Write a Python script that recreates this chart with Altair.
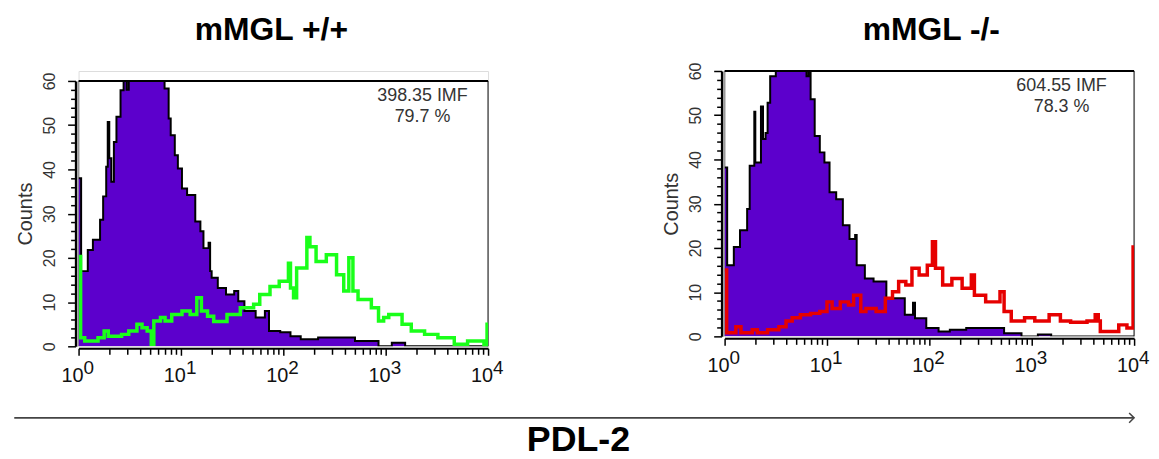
import altair as alt
import pandas as pd

FONT = "Liberation Sans"
PURPLE = "#5c00cc"
GREEN = "#1aff1a"
RED = "#e60000"

# ---- histogram data (bin start in log10 channel units, counts) ----
left_iso_pos = [0.0, 0.025, 0.09, 0.14, 0.21, 0.24, 0.27, 0.285, 0.30, 0.32, 0.345, 0.37, 0.41, 0.44, 0.47, 0.49,
                0.84, 0.88, 0.90, 0.94, 0.97, 1.01, 1.06, 1.14, 1.19, 1.22, 1.27, 1.285, 1.30, 1.36, 1.44, 1.52,
                1.56, 1.62, 1.73, 1.82, 1.86, 1.97, 2.07, 2.17, 2.34, 2.70, 2.93, 3.06, 3.19, 4.0]
left_iso_cnt = [38, 17, 21.8, 24.1, 28.6, 33.9, 40.6, 50.7, 42.5, 37.2, 46.2, 51.9, 57.9, 60, 58, 60,
                58.3, 51.5, 47.7, 43.2, 40.2, 35.7, 34.2, 28.2, 26, 22.2, 23.4, 17, 15.5, 13.2, 11.7, 12.5,
                10.2, 8, 6.5, 8, 3.45, 3.2, 2.3, 1.6, 2.0, 1.2, 0, 0.8, 0, 0]

left_pdl_pos = [0.0, 0.02, 0.06, 0.19, 0.25, 0.29, 0.42, 0.49, 0.57, 0.62, 0.67, 0.71, 0.735, 0.80, 0.845,
                0.91, 1.01, 1.09, 1.155, 1.20, 1.26, 1.32, 1.45, 1.58, 1.71, 1.77, 1.87, 1.96, 2.05, 2.07,
                2.10, 2.13, 2.23, 2.26, 2.32, 2.42, 2.52, 2.59, 2.64, 2.68, 2.73, 2.86, 2.93, 2.98, 3.03,
                3.16, 3.25, 3.38, 3.51, 3.67, 3.80, 3.96, 3.99, 4.0]
left_pdl_cnt = [20.3, 1.95, 1.2, 1.95, 3.45, 2.3, 2.7, 3.45, 5.0, 4.2, 3.45, 0.45, 5.7, 6.5, 5.7,
                7.2, 8.0, 7.2, 11, 8.0, 6.8, 5.6, 7.2, 8.7, 9.5, 11.7, 13.5, 14.7, 18.8, 13.2,
                11, 17.7, 24.6, 22.5, 19.2, 20.7, 16.2, 12.5, 20, 12.5, 10.6, 8.7, 5.7, 6.5, 7.2,
                5.0, 3.45, 2.7, 1.95, 0.45, 1.2, 0.2, 5, 5]

right_iso_pos = [0.0, 0.025, 0.09, 0.15, 0.22, 0.245, 0.29, 0.30, 0.355, 0.375, 0.40, 0.42, 0.445, 0.50, 0.80,
                 0.82, 0.84, 0.88, 0.93, 0.975, 1.025, 1.09, 1.155, 1.22, 1.275, 1.29, 1.37, 1.455, 1.58, 1.76,
                 1.84, 1.86, 1.97, 2.09, 2.20, 2.36, 2.73, 2.90, 3.06, 3.19, 4.0]
right_iso_cnt = [38.2, 16.1, 20.2, 24, 28.8, 38.6, 50.8, 39.3, 52, 44.6, 46, 52.8, 58.8, 60, 58.8,
                 60, 53.6, 45.3, 41.6, 39.3, 32.6, 31, 25.1, 22, 22.9, 16.1, 13.1, 12.4, 8.6, 4.9,
                 7.6, 4.1, 1.9, 1.1, 1.5, 1.9, 0.7, 0, 0.4, 0, 0]

right_pdl_pos = [0.0, 0.02, 0.11, 0.16, 0.27, 0.32, 0.42, 0.53, 0.60, 0.66, 0.74, 0.84, 0.93, 1.0, 1.05,
                 1.13, 1.21, 1.26, 1.33, 1.38, 1.48, 1.57, 1.64, 1.70, 1.77, 1.83, 1.90, 1.98, 2.03, 2.06,
                 2.13, 2.22, 2.32, 2.41, 2.44, 2.55, 2.69, 2.73, 2.80, 2.93, 3.03, 3.17, 3.28, 3.38, 3.54,
                 3.62, 3.65, 3.67, 3.85, 3.93, 3.99, 4.0]
right_pdl_cnt = [15, 0.8, 2.2, 0.8, 1.5, 0.8, 1.5, 2.2, 3.5, 4.2, 4.9, 5.2, 5.6, 7.8, 6.3,
                 7.8, 7.1, 9.3, 5.6, 6.3, 5.6, 8.6, 10.1, 12.4, 11.6, 15.4, 13.9, 16.1, 21.4, 15.4,
                 11.6, 13.1, 10.9, 13.9, 9.3, 7.8, 10.1, 5.6, 3.5, 4.2, 3.5, 4.9, 3.5, 3.2, 3.5,
                 4.9, 3.5, 1.1, 2.6, 1.9, 20.2, 20.2]

titles = ["mMGL +/+", "mMGL -/-"]
imf_text = ["398.35 IMF", "604.55 IMF"]
pct_text = ["79.7 %", "78.3 %"]
x_label = "PDL-2"
y_label = "Counts"

decades = [0, 1, 2, 3, 4]
minor_mult = [1, 2, 3, 4, 5, 6, 7, 8, 9]
y_tick_values = list(range(0, 61, 2))
x_tick_values = [m * 10 ** d for d in decades[:-1] for m in minor_mult] + [10 ** decades[-1]]

W = 412


def hist_df(pos, cnt):
    return pd.DataFrame({"x": [10 ** p for p in pos], "y": cnt})


def panel(iso_pos, iso_cnt, pdl_pos, pdl_cnt, pdl_color, title, imf, pct,
          H, top, title_x, ann_x, ann_y, extras=None):
    xs = alt.Scale(type="log", domain=[1, 10000], nice=False)
    ys = alt.Scale(domain=[0, 60], range=[H, top], nice=False, zero=False)
    xaxis = alt.Axis(values=x_tick_values, labels=False, title=None, grid=False,
                     tickSize={"condition": {"test": "indexof([1,10,100,1000,10000], datum.value) >= 0", "value": 7}, "value": 6},
                     tickWidth=1.5, tickColor="black",
                     domainColor="black", domainWidth=2, offset=2)
    yaxis = alt.Axis(values=y_tick_values, grid=False, title=y_label,
                     titleFont=FONT, titleFontSize=20, titleFontWeight="normal",
                     titleColor="#333", titlePadding=6,
                     labelExpr="datum.value % 10 === 0 ? datum.label : ''",
                     labelAngle=270, labelAlign="center", labelBaseline="bottom",
                     labelFont=FONT, labelFontSize=16, labelColor="#333",
                     labelPadding=10, labelOverlap=False,
                     tickColor="black", tickWidth=1.5,
                     tickSize={"condition": {"test": "datum.value % 10 === 0", "value": 8}, "value": 5},
                     domainColor="black", domainWidth=2.5, offset=3)

    def X(f):
        return alt.X(f, type="quantitative", scale=xs, axis=xaxis)

    def Y(f):
        return alt.Y(f, type="quantitative", scale=ys, axis=yaxis)

    iso = hist_df(iso_pos, iso_cnt)
    pdl = hist_df(pdl_pos, pdl_cnt)
    frame = pd.DataFrame({"x0": [1], "x1": [10000], "y0": [0], "y1": [60]})
    labs = pd.DataFrame({"x": [10 ** d for d in decades],
                         "base": ["10"] * len(decades),
                         "exp": [str(d) for d in decades]})

    layers = [
        alt.Chart(frame).mark_rule(color="#999999", strokeWidth=1.5).encode(x=X("x0"), y=Y("y0"), y2="y1"),
        alt.Chart(frame).mark_rule(color="#555555", strokeWidth=1.5).encode(x=X("x1"), y=Y("y0"), y2="y1"),
        alt.Chart(frame).mark_rule(color="black", strokeWidth=2).encode(x=X("x0"), x2="x1", y=Y("y1")),
        alt.Chart(iso).mark_area(interpolate="step-after", color=PURPLE, clip=True).encode(x=X("x"), y=Y("y")),
        alt.Chart(iso).mark_line(interpolate="step-after", color="black", strokeWidth=2, clip=True).encode(x=X("x"), y=Y("y")),
        alt.Chart(pdl).mark_line(interpolate="step-after", color=pdl_color, strokeWidth=3.5, clip=True).encode(x=X("x"), y=Y("y")),
        alt.Chart(labs).mark_text(align="right", dx=5, baseline="alphabetic", fontSize=20, font=FONT,
                                  color="#111").encode(x=X("x"), y=alt.value(H + 36), text="base:N"),
        alt.Chart(labs).mark_text(align="left", dx=5, baseline="alphabetic", fontSize=19, font=FONT,
                                  color="#111").encode(x=X("x"), y=alt.value(H + 28), text="exp:N"),
        alt.Chart(pd.DataFrame({"t": [title]})).mark_text(fontSize=32, fontWeight="bold", font=FONT,
                                                          align="center", baseline="alphabetic",
                                                          color="black").encode(
            text="t:N", x=alt.value(title_x), y=alt.value(-31)),
        alt.Chart(pd.DataFrame({"t": [imf]})).mark_text(fontSize=18, font=FONT, align="center",
                                                        baseline="alphabetic", color="#333").encode(
            text="t:N", x=alt.value(ann_x), y=alt.value(ann_y)),
        alt.Chart(pd.DataFrame({"t": [pct]})).mark_text(fontSize=18, font=FONT, align="center",
                                                        baseline="alphabetic", color="#333").encode(
            text="t:N", x=alt.value(ann_x), y=alt.value(ann_y + 21.7)),
    ]
    if extras:
        layers += extras
    return alt.layer(*layers).properties(width=W, height=H)


one = pd.DataFrame({"t": [x_label]})
extras = [
    alt.Chart(one).mark_rule(color="#444444", strokeWidth=2).encode(
        x=alt.value(-64.7), x2=alt.value(1062), y=alt.value(349)),
    alt.Chart(one).mark_point(shape="M-1,-1L0,0L-1,1", filled=False, color="#444444",
                              strokeWidth=1.5, size=100, opacity=1).encode(
        x=alt.value(1062), y=alt.value(349)),
    alt.Chart(one).mark_text(fontSize=36, fontWeight="bold", font=FONT, align="center",
                             baseline="alphabetic", color="black").encode(
        text="t:N", x=alt.value(503), y=alt.value(382)),
]

left = panel(left_iso_pos, left_iso_cnt, left_pdl_pos, left_pdl_cnt, GREEN,
             titles[0], imf_text[0], pct_text[0],
             H=277, top=10, title_x=194, ann_x=346, ann_y=30, extras=extras)
right = panel(right_iso_pos, right_iso_cnt, right_pdl_pos, right_pdl_cnt, RED,
              titles[1], imf_text[1], pct_text[1],
              H=267, top=0, title_x=208, ann_x=339, ann_y=20)

chart = alt.hconcat(left, right, spacing=238, bounds="flush").properties(
    padding={"left": 4, "top": 4, "right": 0, "bottom": 0}
).configure_view(strokeWidth=0).configure(font=FONT)

chart.save("out.html", embed_options={"renderer": "svg", "actions": False})
